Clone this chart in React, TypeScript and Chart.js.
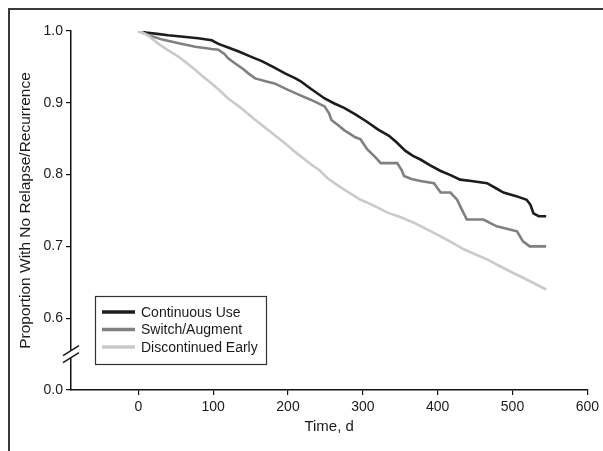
import React, { useEffect, useRef } from "react";
import Chart from "chart.js/auto";

const seriesNames = ["Continuous Use", "Switch/Augment", "Discontinued Early"];
const seriesColors = ["#1c1c1c", "#808080", "#cacaca"];

const contT = [0, 10, 25, 40, 60, 80, 98, 107, 120, 135, 151, 165, 180, 196, 210, 217, 230, 249, 262, 275, 290, 305, 320, 335, 345, 357, 367, 377, 390, 404, 418, 430, 445, 466, 478, 488, 505, 519, 524, 528, 535, 545];
const contV = [1.0, 0.998, 0.996, 0.994, 0.992, 0.99, 0.987, 0.982, 0.977, 0.971, 0.964, 0.958, 0.95, 0.941, 0.934, 0.93, 0.92, 0.906, 0.899, 0.893, 0.884, 0.874, 0.863, 0.854, 0.845, 0.833, 0.826, 0.821, 0.813, 0.805, 0.799, 0.793, 0.791, 0.788, 0.781, 0.775, 0.77, 0.765, 0.758, 0.746, 0.742, 0.742];

const switchT = [0, 5, 14, 32, 54, 76, 98, 107, 115, 120, 129, 140, 147, 156, 170, 182, 200, 215, 231, 249, 255, 258, 268, 275, 290, 297, 306, 315, 324, 346, 352, 355, 365, 377, 395, 404, 417, 426, 432, 439, 461, 479, 495, 506, 514, 523, 545];
const switchV = [1.0, 0.998, 0.994, 0.988, 0.983, 0.978, 0.975, 0.974, 0.968, 0.962, 0.955, 0.947, 0.941, 0.934, 0.93, 0.927, 0.918, 0.911, 0.904, 0.895, 0.885, 0.876, 0.868, 0.862, 0.852, 0.849, 0.835, 0.826, 0.816, 0.816, 0.806, 0.798, 0.794, 0.791, 0.788, 0.775, 0.775, 0.765, 0.752, 0.7375, 0.7375, 0.728, 0.724, 0.721, 0.707, 0.7, 0.7];

const discT = [0, 7, 14, 20, 27, 40, 54, 65, 76, 87, 98, 110, 120, 132, 143, 154, 165, 176, 187, 198, 209, 220, 231, 242, 253, 265, 280, 297, 306, 320, 333, 350, 368, 385, 404, 420, 435, 450, 466, 484, 501, 515, 530, 545];
const discV = [1.0, 0.997, 0.993, 0.988, 0.982, 0.973, 0.964, 0.955, 0.946, 0.936, 0.927, 0.916, 0.906, 0.897, 0.888, 0.878, 0.869, 0.86, 0.851, 0.842, 0.832, 0.823, 0.814, 0.806, 0.795, 0.786, 0.776, 0.765, 0.761, 0.754, 0.747, 0.741, 0.733, 0.724, 0.714, 0.705, 0.696, 0.689, 0.682, 0.672, 0.663, 0.656, 0.648, 0.64];

const xTicks = [0, 100, 200, 300, 400, 500, 600];
const yTicks = [0.5, 0.6, 0.7, 0.8, 0.9, 1.0]; // 0.5 position is shown as "0.0" below the axis break

const FONT = "'Liberation Sans', Arial, sans-serif";
const TXT = "#1a1a1a";

const pairs = (t: number[], v: number[]) => t.map((x, i) => ({ x, y: v[i] }));

export default function App() {
  const ref = useRef<HTMLCanvasElement | null>(null);
  useEffect(() => {
    if (!ref.current) return;
    const extras = {
      id: "extras",
      afterDraw(chart: any) {
        const ctx = chart.ctx;
        const ys = chart.scales.y;
        const ax = chart.chartArea.left;
        const by = ys.getPixelForValue(0.55);
        ctx.save();
        // axis break
        ctx.fillStyle = "#fff";
        ctx.fillRect(ax - 3, by - 4, 6, 8);
        ctx.strokeStyle = "#111";
        ctx.lineWidth = 1.3;
        [-3.5, 3.5].forEach((o) => {
          ctx.beginPath();
          ctx.moveTo(ax - 8, by + o + 5);
          ctx.lineTo(ax + 8, by + o - 5);
          ctx.stroke();
        });
        // legend
        const lx = 85, ly = 286, lw = 171, lh = 68;
        ctx.fillStyle = "#fff";
        ctx.fillRect(lx, ly, lw, lh);
        ctx.strokeStyle = "#333";
        ctx.lineWidth = 1.2;
        ctx.strokeRect(lx + 0.5, ly + 0.5, lw, lh);
        const rows = [302, 319.5, 337];
        ctx.font = "14px " + FONT;
        ctx.textBaseline = "middle";
        ctx.textAlign = "left";
        seriesNames.forEach((n, i) => {
          ctx.strokeStyle = seriesColors[i];
          ctx.lineWidth = 3.5;
          ctx.beginPath();
          ctx.moveTo(92, rows[i]);
          ctx.lineTo(125, rows[i]);
          ctx.stroke();
          ctx.fillStyle = TXT;
          ctx.fillText(n, 131, rows[i] + 1);
        });
        ctx.restore();
      },
    };
    const chart = new Chart(ref.current, {
      type: "line",
      data: {
        datasets: [
          { label: seriesNames[0], data: pairs(contT, contV), borderColor: seriesColors[0] },
          { label: seriesNames[1], data: pairs(switchT, switchV), borderColor: seriesColors[1] },
          { label: seriesNames[2], data: pairs(discT, discV), borderColor: seriesColors[2] },
        ].reverse(),
      },
      options: {
        animation: false,
        responsive: false,
        devicePixelRatio: 1,
        layout: { padding: { top: 21, right: 12, left: 0, bottom: 0 } },
        elements: {
          point: { radius: 0 },
          line: { borderWidth: 2.6, tension: 0, fill: false },
        },
        plugins: { legend: { display: false }, tooltip: { enabled: false } },
        scales: {
          x: {
            type: "linear",
            min: -90,
            max: 600,
            afterBuildTicks: (s: any) => {
              s.ticks = xTicks.map((v) => ({ value: v }));
            },
            afterFit: (s: any) => {
              s.height = 61;
            },
            grid: { drawOnChartArea: false, drawTicks: true, tickLength: 5, color: "#111", lineWidth: 1.2 },
            border: { display: true, color: "#111", width: 1.5 },
            ticks: { font: { family: FONT, size: 14 }, color: TXT, padding: 4, maxRotation: 0, autoSkip: false },
            title: { display: true, text: "Time, d", font: { family: FONT, size: 15 }, color: TXT, padding: { top: 0, bottom: 15 } },
          },
          y: {
            type: "linear",
            min: 0.5,
            max: 1.0,
            afterBuildTicks: (s: any) => {
              s.ticks = yTicks.map((v) => ({ value: v }));
            },
            afterFit: (s: any) => {
              s.width = 61;
            },
            grid: { drawOnChartArea: false, drawTicks: true, tickLength: 5, color: "#111", lineWidth: 1.2 },
            border: { display: true, color: "#111", width: 1.5 },
            ticks: {
              font: { family: FONT, size: 14 },
              color: TXT,
              padding: 3,
              callback: (v: any) => (v < 0.55 ? "0.0" : Number(v).toFixed(1)),
            },
            title: {
              display: true,
              text: "Proportion With No Relapse/Recurrence",
              font: { family: FONT, size: 15.5 },
              color: TXT,
              padding: { top: 6, bottom: 0 },
            },
          },
        },
      },
      plugins: [extras],
    } as any);
    return () => chart.destroy();
  }, []);
  return (
    <div
      style={{
        position: "absolute",
        left: 8,
        top: 8,
        width: 595,
        height: 443,
        boxSizing: "border-box",
        borderTop: "2px solid #3a3a3a",
        borderLeft: "2px solid #3a3a3a",
        background: "#fff",
      }}
    >
      <canvas ref={ref} width={593} height={441} style={{ display: "block", width: 593, height: 441 }} />
    </div>
  );
}
